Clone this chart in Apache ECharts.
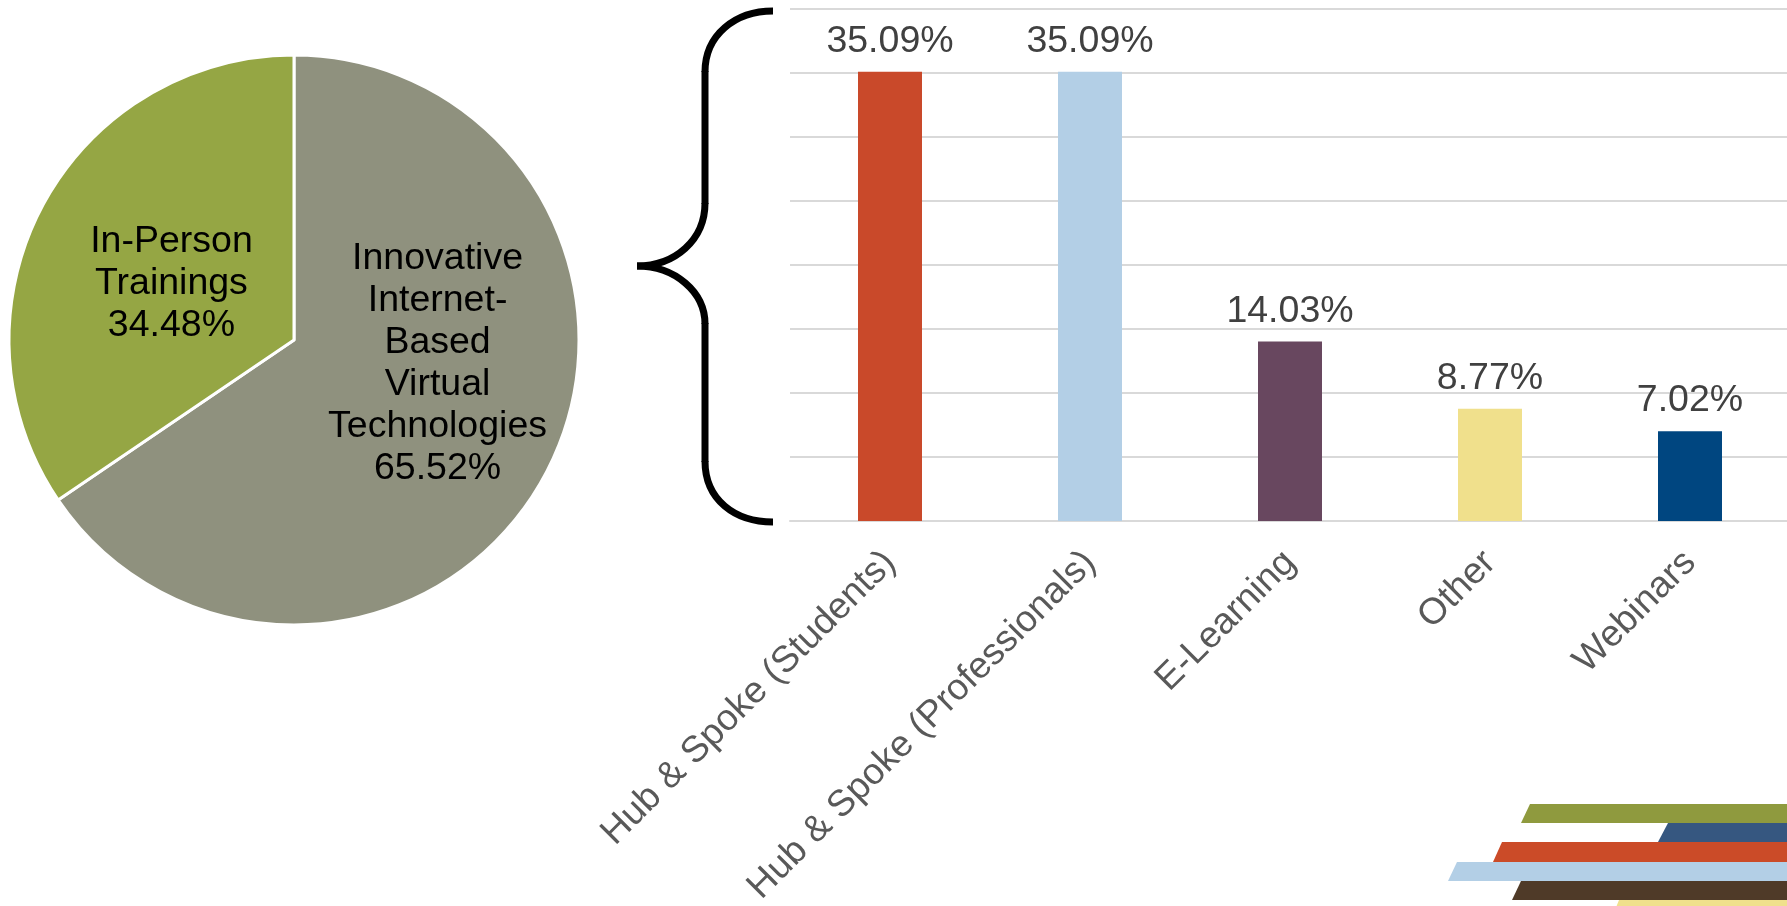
<!DOCTYPE html>
<html>
<head>
<meta charset="utf-8">
<script src="https://cdn.jsdelivr.net/npm/echarts@6/dist/echarts.min.js"></script>
<style>
html,body{margin:0;padding:0;background:#fff;}
#c{width:1787px;height:906px;}
</style>
</head>
<body>
<div id="c"></div>
<script>
var pieNames = ['Innovative\nInternet-\nBased\nVirtual\nTechnologies', 'In-Person\nTrainings'];
var pieValues = [65.52, 34.48];
var pieColors = ['#8F917E', '#95A644'];

var barCategories = ['Hub & Spoke (Students)', 'Hub & Spoke (Professionals)', 'E-Learning', 'Other', 'Webinars'];
var barValues = [35.09, 35.09, 14.03, 8.77, 7.02];
var barColors = ['#C9492A', '#B3CFE6', '#68475F', '#F0E08C', '#004680'];

var yTicks = [0, 5, 10, 15, 20, 25, 30, 35, 40];

var FONT = 'Liberation Sans, Arial, sans-serif';
var chart = echarts.init(document.getElementById('c'));

var pieLabelOffsets = [[15, -45], [6, 12]];
var braceStyle = { fill: 'none', stroke: '#000000', lineWidth: 7, lineCap: 'butt' };

chart.setOption({
  animation: false,
  grid: { left: 790, top: 9, width: 1000, bottom: 385, containLabel: false, outerBoundsMode: 'none' },
  xAxis: {
    type: 'category',
    data: barCategories,
    axisLine: { show: true, lineStyle: { color: '#D9D9D9', width: 2 } },
    axisTick: { show: false },
    axisLabel: { rotate: 45, interval: 0, fontSize: 37, color: '#595959', fontFamily: FONT, margin: 36 }
  },
  yAxis: {
    type: 'value',
    min: yTicks[0],
    max: yTicks[yTicks.length - 1],
    interval: yTicks[1] - yTicks[0],
    axisLabel: { show: false },
    axisLine: { show: false },
    axisTick: { show: false },
    splitLine: { lineStyle: { color: '#D9D9D9', width: 2 } }
  },
  series: [
    {
      type: 'pie',
      center: [294, 340],
      radius: 285,
      startAngle: 90,
      clockwise: true,
      silent: true,
      itemStyle: { borderColor: '#ffffff', borderWidth: 3 },
      label: {
        show: true, position: 'inside', fontSize: 37.5, lineHeight: 42,
        color: '#000000', fontFamily: FONT, align: 'center'
      },
      labelLine: { show: false },
      data: pieValues.map(function (v, i) {
        return {
          value: v,
          name: pieNames[i],
          itemStyle: { color: pieColors[i] },
          label: { formatter: '{b}\n' + v.toFixed(2) + '%', offset: pieLabelOffsets[i] }
        };
      })
    },
    {
      type: 'bar',
      barWidth: 64,
      data: barValues.map(function (v, i) {
        return { value: v, itemStyle: { color: barColors[i] } };
      }),
      label: {
        show: true, position: 'top', distance: 11, fontSize: 37.5,
        color: '#404040', fontFamily: FONT,
        formatter: function (p) { return p.value.toFixed(2) + '%'; }
      }
    }
  ],
  graphic: [
    { type: 'bezierCurve', shape: { x1: 773, y1: 11, cpx1: 735, cpy1: 11, cpx2: 705, cpy2: 35, x2: 705, y2: 72 }, style: braceStyle },
    { type: 'line', shape: { x1: 705, y1: 71, x2: 705, y2: 204 }, style: braceStyle },
    { type: 'bezierCurve', shape: { x1: 705, y1: 203, cpx1: 705, cpy1: 240, cpx2: 675, cpy2: 266, x2: 637, y2: 266 }, style: braceStyle },
    { type: 'bezierCurve', shape: { x1: 637, y1: 266, cpx1: 675, cpy1: 266, cpx2: 705, cpy2: 292, x2: 705, y2: 324 }, style: braceStyle },
    { type: 'line', shape: { x1: 705, y1: 323, x2: 705, y2: 462 }, style: braceStyle },
    { type: 'bezierCurve', shape: { x1: 705, y1: 461, cpx1: 705, cpy1: 500, cpx2: 735, cpy2: 522, x2: 773, y2: 522 }, style: braceStyle },
    { type: 'polygon', shape: { points: [[1530, 804], [1800, 804], [1800, 823], [1521, 823]] }, style: { fill: '#8F9A3E' } },
    { type: 'polygon', shape: { points: [[1668, 823], [1800, 823], [1800, 842], [1658, 842]] }, style: { fill: '#365780' } },
    { type: 'polygon', shape: { points: [[1502, 842], [1800, 842], [1800, 862], [1493, 862]] }, style: { fill: '#CB4B28' } },
    { type: 'polygon', shape: { points: [[1457, 862], [1800, 862], [1800, 881], [1448, 881]] }, style: { fill: '#B3CFE6' } },
    { type: 'polygon', shape: { points: [[1521, 881], [1800, 881], [1800, 900], [1512, 900]] }, style: { fill: '#4F3A28' } },
    { type: 'polygon', shape: { points: [[1619, 900], [1800, 900], [1800, 910], [1615, 910]] }, style: { fill: '#F0E08C' } }
  ]
});
</script>
</body>
</html>
